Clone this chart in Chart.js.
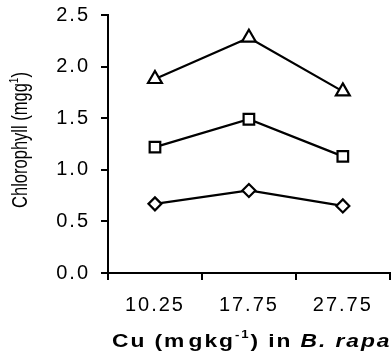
<!DOCTYPE html>
<html>
<head>
<meta charset="utf-8">
<script src="https://cdn.jsdelivr.net/npm/chart.js"></script>
<style>
  html, body { margin: 0; padding: 0; background: #fff; overflow: hidden; }
  #wrap { width: 400px; height: 358px; }
</style>
</head>
<body>
<div id="wrap"><canvas id="chl"></canvas></div>
<script>
  // data
  var cu_levels = ['10.25', '17.75', '27.75'];
  var total_chl = [1.88, 2.28, 1.76];
  var chl_a = [1.22, 1.49, 1.13];
  var chl_b = [0.67, 0.80, 0.65];
  var y_ticks = [0, 0.5, 1.0, 1.5, 2.0, 2.5];

  var spacing = {
    id: 'spacing',
    beforeLayout: function (chart) { chart.ctx.letterSpacing = '2px'; },
    beforeDraw: function (chart) { chart.ctx.letterSpacing = '2px'; },
    afterDraw: function (chart) {
      var ctx = chart.ctx;
      ctx.save();
      ctx.letterSpacing = '0px';
      ctx.fillStyle = '#000';

      // y title, rotated, glyphs a bit taller
      ctx.save();
      ctx.translate(21, 140);
      ctx.rotate(-Math.PI / 2);
      ctx.scale(1, 1.3);
      ctx.textBaseline = 'middle';
      var p1 = 'Chlorophyll (mgg', p2 = '1', p3 = ')';
      ctx.font = '16.5px Arial, "Liberation Sans"';
      var w1 = ctx.measureText(p1).width, w3 = ctx.measureText(p3).width;
      ctx.font = '10px Arial, "Liberation Sans"';
      var w2 = ctx.measureText(p2).width;
      var x = -(w1 + w2 + w3) / 2;
      ctx.font = '16.5px Arial, "Liberation Sans"';
      ctx.fillText(p1, x, 0);
      ctx.font = '10px Arial, "Liberation Sans"';
      ctx.fillText(p2, x + w1, -5);
      ctx.font = '16.5px Arial, "Liberation Sans"';
      ctx.fillText(p3, x + w1 + w2, 0);
      ctx.restore();

      // x title with italic species name
      ctx.save();
      ctx.translate(112, 342);
      ctx.scale(1.2, 1);
      ctx.textBaseline = 'middle';
      ctx.letterSpacing = '1.6px';
      var parts = [
        ['Cu (m', 'bold 19px Arial, "Liberation Sans"', 0],
        [' ', 'bold 19px Arial, "Liberation Sans"', 0],
        ['gkg', 'bold 19px Arial, "Liberation Sans"', 0],
        ['-1', 'bold 11px Arial, "Liberation Sans"', -7],
        [') in ', 'bold 19px Arial, "Liberation Sans"', 0],
        ['B. rapa', 'italic bold 19px Arial, "Liberation Sans"', 0]
      ];
      var cx = 0;
      for (var i = 0; i < parts.length; i++) {
        ctx.font = parts[i][1];
        if (parts[i][0] == ' ') { cx += 2; continue; }
        ctx.fillText(parts[i][0], cx, parts[i][2]);
        cx += ctx.measureText(parts[i][0]).width;
      }
      ctx.restore();
      ctx.restore();
    }
  };

  function series(label, values, style, radius) {
    return {
      label: label,
      data: values,
      borderColor: '#000',
      borderWidth: 2.2,
      backgroundColor: '#fff',
      pointStyle: style,
      pointRadius: radius,
      pointBorderWidth: 2.2,
      pointBackgroundColor: '#fff',
      pointBorderColor: '#000',
      tension: 0,
      fill: false
    };
  }

  var ctx = document.getElementById('chl');
  var chart = new Chart(ctx, {
    type: 'line',
    data: {
      labels: cu_levels,
      datasets: [
        series('Total chlorophyll', total_chl, 'triangle', 8),
        series('Chlorophyll a', chl_a, 'rect', 7.5),
        series('Chlorophyll b', chl_b, 'rectRot', 6.5)
      ]
    },
    options: {
      responsive: true,
      maintainAspectRatio: false,
      animation: false,
      layout: { padding: { top: 15, right: 0, left: 0, bottom: 0 } },
      plugins: { legend: { display: false }, tooltip: { enabled: false } },
      scales: {
        x: {
          offset: true,
          grid: { offset: true, display: true, drawOnChartArea: false, drawTicks: true, tickLength: 7, color: '#000', lineWidth: 2 },
          border: { display: true, color: '#000', width: 2 },
          ticks: { color: '#000', padding: 13, maxRotation: 0, font: { family: 'Arial, "Liberation Sans"', size: 20 } },
          afterFit: function (s) { s.height = 85; s.paddingLeft = 0; s.paddingRight = 0; }
        },
        y: {
          min: 0,
          max: 2.5,
          afterBuildTicks: function (s) { s.ticks = y_ticks.map(function (v) { return { value: v }; }); },
          grid: { display: true, drawOnChartArea: false, drawTicks: true, tickLength: 7, color: '#000', lineWidth: 2 },
          border: { display: true, color: '#000', width: 2 },
          ticks: {
            color: '#000',
            padding: 11,
            font: { family: 'Arial, "Liberation Sans"', size: 20 },
            callback: function (v) { return Number(v).toFixed(1); }
          },
          afterFit: function (s) { s.width = 108; s.paddingTop = 0; s.paddingBottom = 0; }
        }
      }
    },
    plugins: [spacing]
  });
</script>
</body>
</html>
